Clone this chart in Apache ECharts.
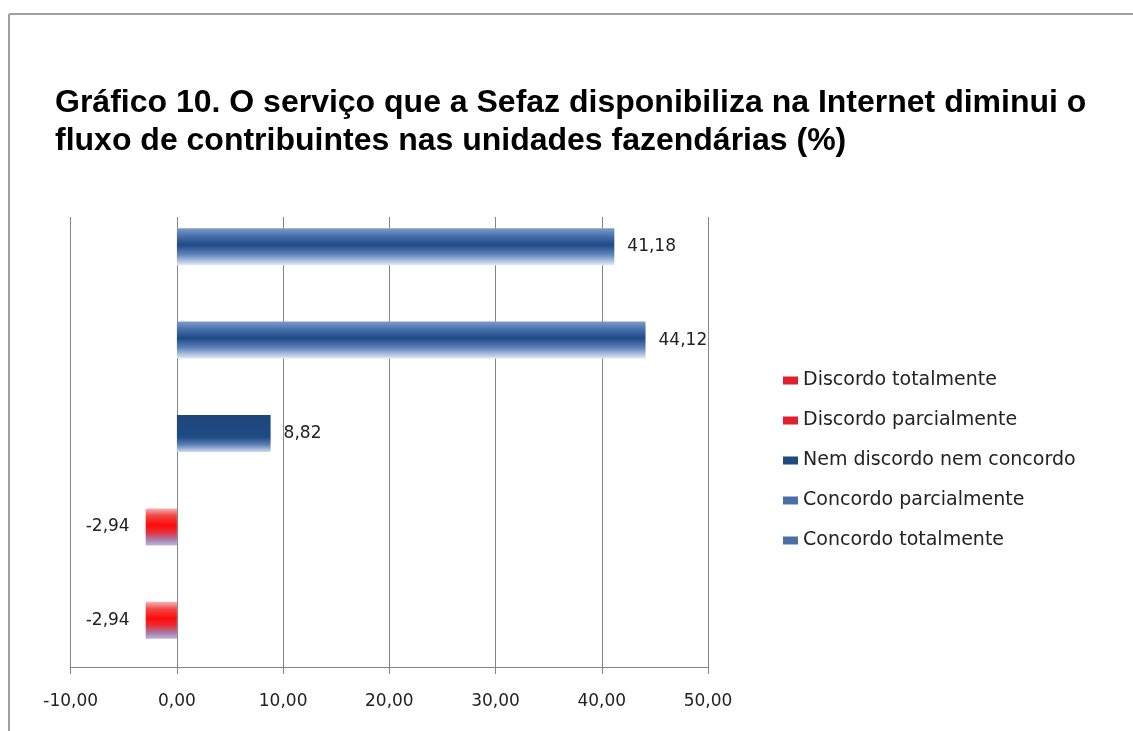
<!DOCTYPE html>
<html>
<head>
<meta charset="utf-8">
<script src="https://cdn.jsdelivr.net/npm/echarts@6/dist/echarts.min.js"></script>
<style>
html,body{margin:0;padding:0;background:#fff;}
#chart{width:1133px;height:731px;}
</style>
</head>
<body>
<div id="chart"></div>
<script>
// Data (bottom to top on the category axis)
var categories = ['Discordo totalmente', 'Discordo parcialmente', 'Nem discordo nem concordo', 'Concordo parcialmente', 'Concordo totalmente'];
var values = [-2.94, -2.94, 8.82, 44.12, 41.18];
var xTicks = [-10, 0, 10, 20, 30, 40, 50];
var titleText = 'Gráfico 10. O serviço que a Sefaz disponibiliza na Internet diminui o\nfluxo de contribuintes nas unidades fazendárias (%)';

var G = echarts.graphic.LinearGradient;
var redFill = new G(0, 0, 0, 1, [
  {offset: 0, color: '#f6b4b4'}, {offset: 0.2, color: '#f24545'},
  {offset: 0.45, color: '#ff0a0a'}, {offset: 0.65, color: '#e8303a'},
  {offset: 0.85, color: '#a57fae'}, {offset: 1, color: '#c2b4d8'}]);
var navyFill = new G(0, 0, 0, 1, [
  {offset: 0, color: '#1e467c'}, {offset: 0.6, color: '#1f4a82'},
  {offset: 0.8, color: '#5a7fb5'}, {offset: 1, color: '#cfdbee'}]);
var blueFill = new G(0, 0, 0, 1, [
  {offset: 0, color: '#7e9ccb'}, {offset: 0.2, color: '#4a72ad'},
  {offset: 0.45, color: '#1e4a87'}, {offset: 0.7, color: '#5b80b9'},
  {offset: 1, color: '#e2eaf6'}]);
var fills = [redFill, redFill, navyFill, blueFill, blueFill];
var icons = ['#e0202e', '#e0202e', '#1f4a7e', '#4a70a8', '#4a70a8'];

function fmt(v) { return v.toFixed(2).replace('.', ','); }

var series = categories.map(function (name, i) {
  var d = categories.map(function (c, j) { return j === i ? values[i] : '-'; });
  return {
    name: name,
    type: 'bar',
    stack: 'all',
    xAxisIndex: 0,
    yAxisIndex: 0,
    barWidth: 37,
    color: icons[i],
    itemStyle: {color: fills[i]},
    label: {
      show: true,
      position: values[i] < 0 ? 'left' : 'right',
      distance: values[i] < 0 ? 16 : 13,
      formatter: function (p) { return fmt(p.value); },
      fontFamily: 'DejaVu Sans',
      fontSize: 17,
      color: '#222'
    },
    data: d
  };
});

var chart = echarts.init(document.getElementById('chart'));
chart.setOption({
  backgroundColor: '#fff',
  animation: false,
  title: {
    text: titleText,
    left: 50,
    top: 79,
    textStyle: {fontFamily: 'Liberation Sans', fontWeight: 'bold', fontSize: 32, lineHeight: 38, color: '#000'}
  },
  legend: {
    orient: 'vertical',
    left: 778,
    top: 366,
    itemWidth: 15,
    itemHeight: 8,
    itemGap: 21,
    icon: 'rect',
    data: categories.map(function (c, i) { return {name: c, itemStyle: {color: icons[i]}}; }),
    textStyle: {fontFamily: 'DejaVu Sans', fontSize: 19, color: '#222'}
  },
  graphic: [
    {type: 'line', shape: {x1: 9, y1: 14, x2: 1133, y2: 14}, style: {stroke: '#a0a0a0', lineWidth: 2}},
    {type: 'line', shape: {x1: 9, y1: 14, x2: 9, y2: 731}, style: {stroke: '#a0a0a0', lineWidth: 2}}
  ],
  grid: [
    {left: 70.7, right: 425, top: 200, bottom: 64},
    {left: 70.7, right: 425, top: 217, bottom: 64}
  ],
  xAxis: [
    {gridIndex: 0, type: 'value', min: xTicks[0], max: xTicks[xTicks.length - 1], interval: 10, show: false},
    {gridIndex: 1, type: 'value', min: xTicks[0], max: xTicks[xTicks.length - 1], interval: 10,
      axisLine: {show: true, lineStyle: {color: '#858585', width: 1}},
      axisTick: {show: true, length: 7, lineStyle: {color: '#858585'}},
      splitLine: {show: true, lineStyle: {color: '#858585', width: 1}},
      axisLabel: {margin: 26, fontFamily: 'DejaVu Sans', fontSize: 17, color: '#222', formatter: fmt}
    }
  ],
  yAxis: [
    {gridIndex: 0, type: 'category', data: categories, show: false},
    {gridIndex: 1, type: 'category', data: categories, show: false}
  ],
  series: series
});
</script>
</body>
</html>
